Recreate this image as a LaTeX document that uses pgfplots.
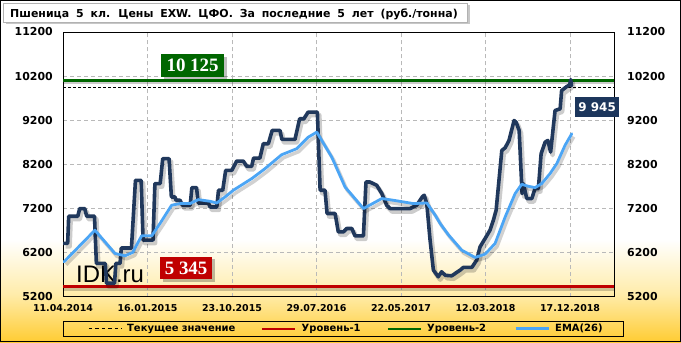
\documentclass[border=0pt]{standalone}
\usepackage{pgfplots}
\usepackage{pgfplotstable}
\pgfplotsset{compat=1.18}
\usepackage{fontspec}
\setmainfont{DejaVu Sans}
\newfontfamily\serifbold{Liberation Serif}
\newfontfamily\arialfont{Liberation Sans}
\newfontfamily\titlefont[WordSpace=1.8]{DejaVu Sans}

\definecolor{navy}{RGB}{32,56,92}
\definecolor{ema}{RGB}{75,165,245}
\definecolor{lvlgreen}{RGB}{0,102,0}
\definecolor{lvlred}{RGB}{192,0,0}
\definecolor{bggold}{RGB}{255,204,51}
\definecolor{bgmid}{RGB}{255,236,170}
\definecolor{gridgray}{RGB}{185,185,185}
\definecolor{boxnavy}{RGB}{28,54,92}

\pgfdeclareverticalshading{bgshade}{100bp}{color(0bp)=(bggold); color(25bp)=(bggold); color(32bp)=(bgmid); color(40bp)=(white); color(100bp)=(white)}

\pgfplotstableread{
w v
0.3 6404
2.2 6404
2.7 7021
7.0 7021
7.9 7195
10.3 7195
11.2 7021
14.9 7021
15.8 5950
20.0 5950
20.6 5500
24.4 5500
25.0 5950
27.0 5950
27.6 6300
32.4 6300
34.3 7836
37.0 7836
37.9 6478
42.6 6478
43.5 7761
46.0 7761
47.2 8327
50.2 8327
51.3 7458
53.0 7458
53.5 7383
55.4 7383
56.5 7270
60.2 7270
61.0 7670
63.2 7670
64.0 7322
68.8 7322
69.6 7231
72.8 7231
73.6 7610
75.6 7610
77.0 8062
79.9 8062
82.2 8272
85.3 8272
87.0 8152
89.3 8152
90.2 8340
93.2 8340
94.8 8666
97.2 8666
99.0 8967
102.7 8967
103.6 8763
109.8 8763
112.0 9232
114.0 9232
116.0 9381
120.4 9381
121.7 7610
124.0 7610
125.0 7082
128.8 7082
130.3 6666
132.7 6666
134.3 6743
136.7 6743
138.2 6576
142.2 6576
143.4 7797
145.3 7797
148.5 7722
150.9 7535
153.2 7270
154.8 7195
164.3 7195
167.4 7270
170.2 7470
171.0 7496
172.2 7300
173.7 6500
175.3 5800
177.6 5648
179.2 5761
181.0 5680
184.0 5670
188.0 5800
189.5 5860
193.5 5860
195.8 6026
197.4 6327
199.8 6517
202.1 6704
203.7 6931
205.0 7157
207.7 8514
209.3 8575
211.1 8740
213.5 9193
214.5 9150
215.9 8967
217.3 7535
217.9 7761
219.5 7422
221.9 7422
223.4 7648
225.0 7648
226.3 8440
228.2 8702
229.5 8740
230.8 8476
232.9 9419
235.3 9457
236.0 9872
238.4 9962
239.8 10000
240.3 10120
240.7 9980
}\pricetable

\pgfplotstableread{
w v
0.5 5988
15.1 6704
24.6 6177
29.3 6123
33.0 6200
37.2 6576
42.0 6576
45.9 6856
51.4 7270
55.4 7308
60.1 7308
64.0 7398
69.6 7360
72.8 7322
76.7 7458
80.6 7610
89.3 7874
95.6 8100
103.5 8417
110.6 8553
116.1 8815
120.1 8929
127.2 8363
133.5 7684
142.2 7195
150.9 7422
156.4 7383
165.8 7308
172.2 7322
176.1 7050
178.5 6856
182.4 6600
188.7 6252
195.0 6086
199.8 6161
204.5 6403
209.3 7006
214.0 7535
217.1 7745
220.3 7700
223.4 7670
226.6 7761
230.5 7987
233.7 8213
237.6 8627
240.8 8892
}\ematable

\begin{document}
\begin{tikzpicture}[x=1bp,y=1bp]
\shade[shading=bgshade] (0,0) rectangle (681,342);
\draw[black,line width=1bp] (0.5,0.5) rectangle (680.5,341.5);
% title
\fill[black,opacity=0.22] (5.5,317.5) rectangle (469.5,337);
\draw[gray!60,fill=white,line width=0.5bp] (3,320) rectangle (467,339);
\node[anchor=base west,inner sep=0pt,font=\titlefont\bfseries\fontsize{11}{13}\selectfont] at (10,325) {Пшеница 5 кл. Цены EXW. ЦФО. За последние 5 лет (руб./тонна)};
% watermark
\node[anchor=base west,inner sep=0pt,font=\arialfont\fontsize{24}{28}\selectfont] at (76,60) {IDK.ru};

\begin{axis}[
  at={(63bp,45.5bp)}, anchor=south west,
  scale only axis, width=551bp, height=264.5bp,
  xmin=0, xmax=260.8, ymin=5200, ymax=11200,
  scaled x ticks=false, scaled y ticks=false,
  xtick={0,40,80,120,160,200,240},
  xticklabels={11.04.2014,16.01.2015,23.10.2015,29.07.2016,22.05.2017,12.03.2018,17.12.2018},
  ytick={5200,6200,7200,8200,9200,10200,11200},
  yticklabels={5200,6200,7200,8200,9200,10200,11200},
  major tick length=0pt,
  grid=major,
  major grid style={gridgray, line width=0.6bp, dash pattern=on 4bp off 3bp},
  axis line style={black, line width=0.8bp},
  xticklabel style={font=\bfseries\fontsize{9.5}{11}\selectfont, inner sep=0pt, anchor=north, yshift=-8bp},
  yticklabel style={font=\bfseries\fontsize{11}{13}\selectfont, inner sep=0pt, anchor=east, xshift=-10bp},
  legend columns=4,
  legend style={at={(0,0)}, anchor=north west, yshift=-24.2bp, draw=black, line width=0.8bp, fill=none,
    inner xsep=25bp, inner ysep=3.5bp, column sep=0bp,
    font=\bfseries\fontsize{10}{12}\selectfont,
    nodes={inner sep=0pt, text height=7bp, text depth=1.5bp}},
  legend image code/.code={\draw[#1] (0bp,0bp) -- (33bp,0bp); \path (38bp,0bp);},
]
\addlegendimage{black, line width=0.8bp, dash pattern=on 3.5bp off 3bp}
\addlegendentry[text width=134bp]{Текущее значение}
\addlegendimage{lvlred, line width=2.5bp}
\addlegendentry[text width=85bp]{Уровень-1}
\addlegendimage{lvlgreen, line width=2.5bp}
\addlegendentry[text width=87bp]{Уровень-2}
\addlegendimage{ema, line width=3bp}
\addlegendentry[text width=43bp]{EMA(26)}

% level lines with shadows
\addplot[forget plot, black, opacity=0.2, line width=3.5bp, yshift=-2.5bp] coordinates {(0,10110) (260.8,10110)};
\addplot[forget plot, lvlgreen, line width=3bp] coordinates {(0,10110) (260.8,10110)};
\addplot[forget plot, black, opacity=0.2, line width=3.5bp, yshift=-2.5bp] coordinates {(0,5430) (260.8,5430)};
\addplot[forget plot, lvlred, line width=3bp] coordinates {(0,5430) (260.8,5430)};
\addplot[forget plot, black, line width=0.8bp, dash pattern=on 3bp off 2bp] coordinates {(0,9945) (260.8,9945)};
% price
\addplot[forget plot, black, opacity=0.2, line width=4.5bp, line join=round, xshift=2bp, yshift=-3bp] table {\pricetable};
\addplot[forget plot, navy, line width=3.6bp, line join=round, line cap=round] table {\pricetable};
% EMA
\addplot[forget plot, black, opacity=0.18, line width=3.5bp, line join=round, xshift=2bp, yshift=-3bp] table {\ematable};
\addplot[forget plot, ema, line width=2.8bp, line join=round, line cap=round] table {\ematable};
\end{axis}

\begin{axis}[
  at={(63bp,45.5bp)}, anchor=south west,
  scale only axis, width=551bp, height=264.5bp,
  xmin=0, xmax=260.8, ymin=5200, ymax=11200,
  scaled x ticks=false, scaled y ticks=false,
  axis line style={draw=none}, xtick=\empty,
  ytick={5200,6200,7200,8200,9200,10200,11200},
  yticklabels={5200,6200,7200,8200,9200,10200,11200},
  yticklabel pos=right, major tick length=0pt,
  yticklabel style={font=\bfseries\fontsize{11}{13}\selectfont, inner sep=0pt, anchor=west, xshift=13bp},
]
\addplot[draw=none, forget plot] coordinates {(0,5200)};
\end{axis}

% value boxes
\fill[black,opacity=0.25] (163.5,262.8) rectangle (227.3,285.5);
\fill[lvlgreen] (161,265.3) rectangle (224.3,288);
\node[white,font=\serifbold\bfseries\fontsize{19}{21}\selectfont,inner sep=0pt] at (192.6,276.6) {10 125};
\fill[black,opacity=0.25] (162.5,60.2) rectangle (215.3,82.8);
\fill[lvlred] (160,62.7) rectangle (212.3,85.3);
\node[white,font=\serifbold\bfseries\fontsize{19}{21}\selectfont,inner sep=0pt] at (186.1,74) {5 345};
\fill[boxnavy] (575,224.7) rectangle (619.3,245.3);
\node[white,font=\bfseries\fontsize{12}{14}\selectfont,inner sep=0pt] at (597.1,235) {9 945};
\end{tikzpicture}
\end{document}
